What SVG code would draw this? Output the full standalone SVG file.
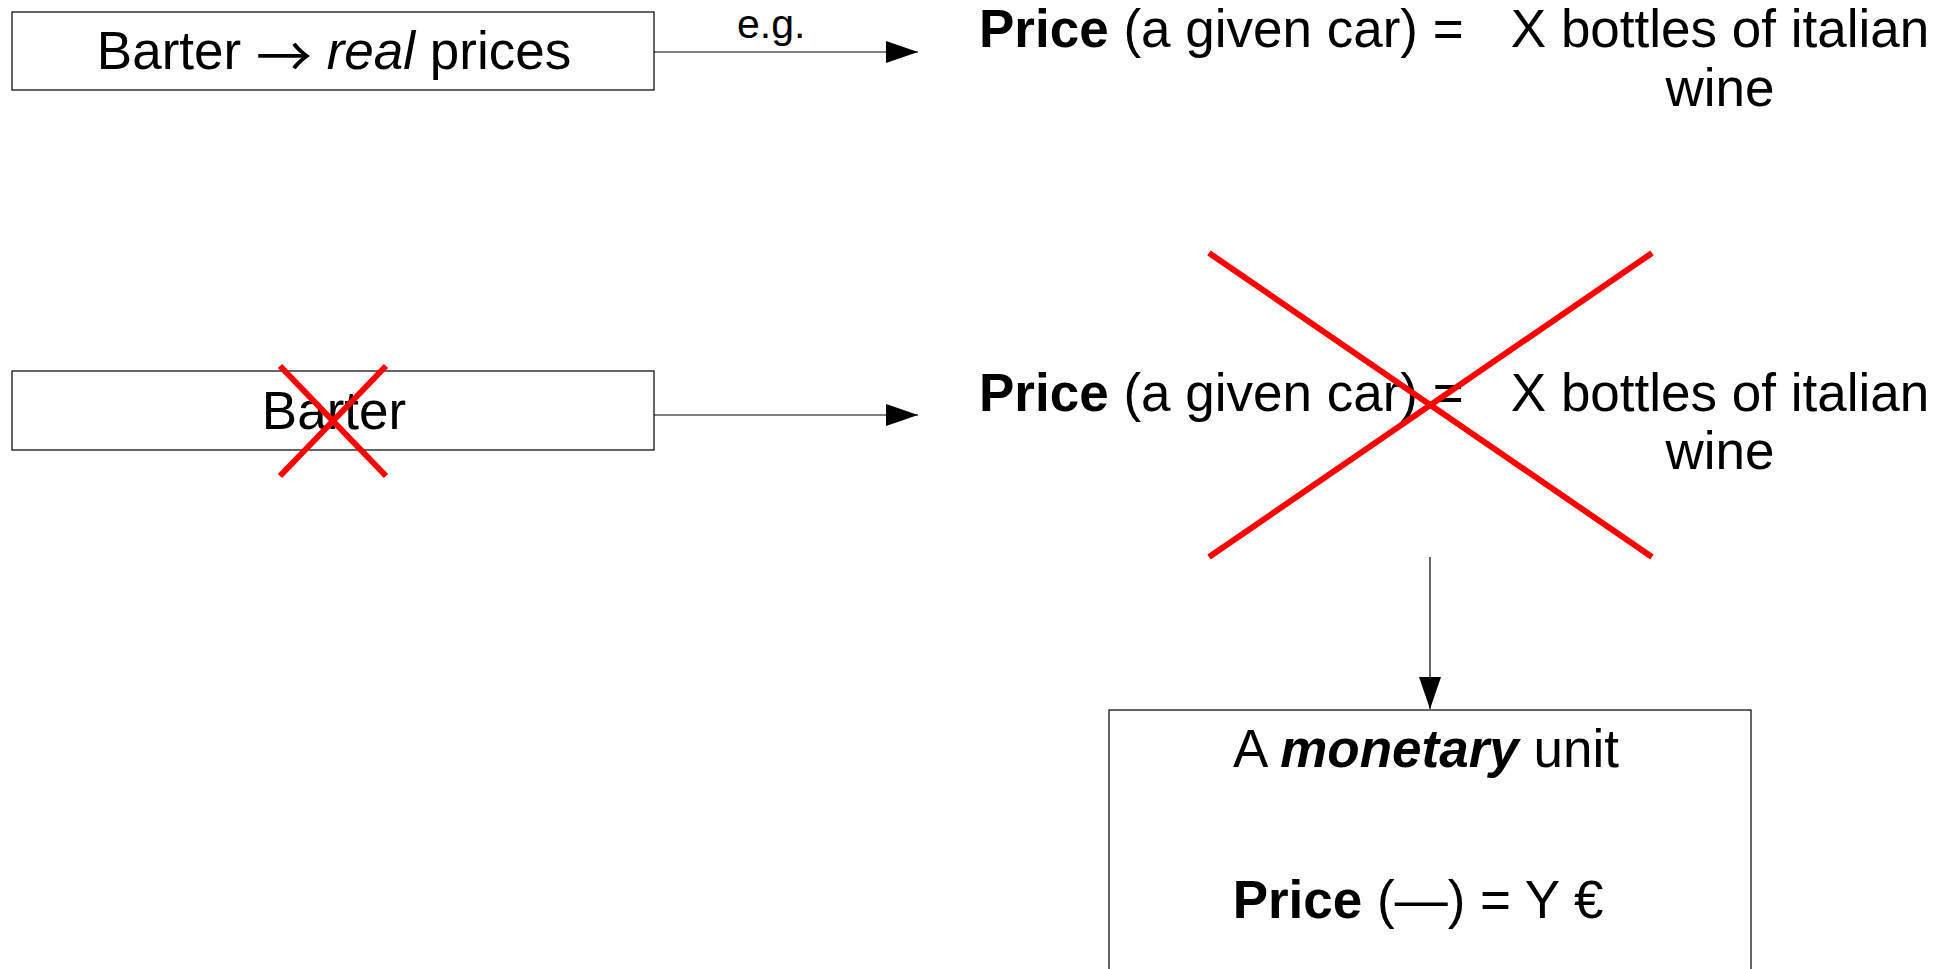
<svg xmlns="http://www.w3.org/2000/svg" width="1939" height="969" viewBox="0 0 1939 969">
  <style>
    .box { fill: #ffffff; stroke: #000000; stroke-width: 1.2; }
    .t { font-family: "Liberation Sans", Arial, sans-serif; font-size: 53px; fill: #000000; }
    .small { font-size: 41px; }
    .b { font-weight: bold; }
    .i { font-style: italic; }
    .arr { font-family: "Noto Sans CJK SC", "Noto Sans CJK JP", sans-serif; font-size: 56px; }
    .conn { stroke: #000000; stroke-width: 1.2; fill: none; }
    .cross { stroke: #ff0000; stroke-width: 6; stroke-linecap: butt; }
  </style>
  <defs>
    <marker id="arrow" markerWidth="32" markerHeight="22" refX="32" refY="11" orient="auto" markerUnits="userSpaceOnUse">
      <path d="M0,0 L32,11 L0,22 Z" fill="#000000"/>
    </marker>
  </defs>
  <rect width="1939" height="969" fill="#ffffff"/>

  <g id="connectors">
    <line class="conn" x1="654" y1="52" x2="918" y2="52" marker-end="url(#arrow)"/>
    <line class="conn" x1="654" y1="415" x2="918" y2="415" marker-end="url(#arrow)"/>
    <line class="conn" x1="1430" y1="557" x2="1430" y2="709" marker-end="url(#arrow)"/>
    <text class="t small" x="737" y="38">e.g.</text>
  </g>

  <g id="barter-real">
    <rect class="box" x="12" y="12" width="642" height="78"/>
    <text class="t" x="334" y="69" text-anchor="middle">Barter <tspan class="arr" baseline-shift="-8">→</tspan> <tspan class="i">real</tspan> prices</text>
  </g>

  <g id="price-barter-1">
    <text class="t" x="979" y="47"><tspan class="b">Price</tspan> (a given car) =</text>
    <text class="t" x="1720" y="47" text-anchor="middle">X bottles of italian</text>
    <text class="t" x="1720" y="106" text-anchor="middle">wine</text>
  </g>

  <g id="barter-crossed">
    <rect class="box" x="12" y="371" width="642" height="79"/>
    <text class="t" x="334" y="429" text-anchor="middle">Barter</text>
    <line class="cross" x1="280" y1="366" x2="386" y2="476"/>
    <line class="cross" x1="386" y1="366" x2="280" y2="476"/>
  </g>

  <g id="price-barter-2">
    <text class="t" x="979" y="411"><tspan class="b">Price</tspan> (a given car) =</text>
    <text class="t" x="1720" y="411" text-anchor="middle">X bottles of italian</text>
    <text class="t" x="1720" y="469" text-anchor="middle">wine</text>
    <line class="cross" x1="1209" y1="253" x2="1652" y2="557"/>
    <line class="cross" x1="1652" y1="253" x2="1209" y2="557"/>
  </g>

  <g id="monetary-unit">
    <rect class="box" x="1109" y="710" width="642" height="300"/>
    <text class="t" x="1426" y="767" text-anchor="middle">A <tspan class="b i">monetary</tspan> unit</text>
    <text class="t" x="1418" y="918" text-anchor="middle"><tspan class="b">Price</tspan> (—) = Y €</text>
  </g>
</svg>
